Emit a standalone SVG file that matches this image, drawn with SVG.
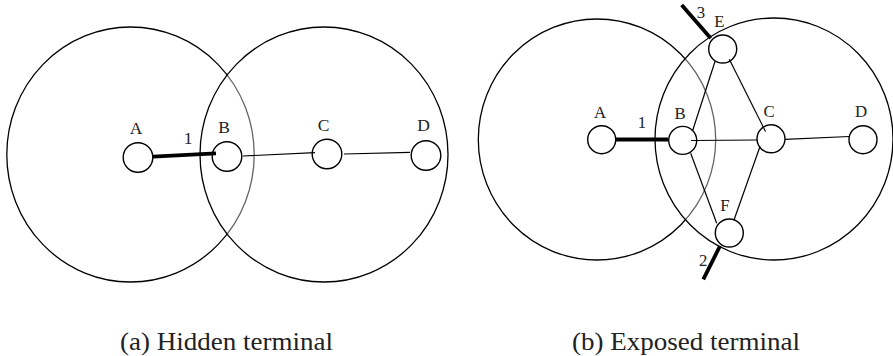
<svg xmlns="http://www.w3.org/2000/svg" width="893" height="356" viewBox="0 0 893 356">
<style>
.range{fill:none;stroke:#000;stroke-width:1.3}
.cover{fill:#fff;fill-opacity:0.4;stroke:#000;stroke-width:1.3}
.node{fill:none;stroke:#000;stroke-width:1.4}
.link{stroke:#000;stroke-width:1.2;fill:none}
.tx{stroke:#000;stroke-width:3.8;fill:none}
.lbl{font-family:"Liberation Serif","Times New Roman",serif;fill:#222;text-anchor:middle}
.l1{font-size:17.5px}
.l2{font-size:16.8px}
.cap{font-family:"Liberation Serif","Times New Roman",serif;font-size:26px;fill:#222;text-anchor:middle}
</style>
<rect width="893" height="356" fill="#fff"/>
<g id="panel-a">
  <g id="range-a-A"><ellipse class="range" cx="130.5" cy="154.5" rx="123.7" ry="127.5"/></g>
  <g id="range-a-B"><ellipse class="cover" cx="324" cy="154.5" rx="124" ry="127.5"/></g>
  <g id="connectors-a">
    <line class="tx" x1="153" y1="156.7" x2="216" y2="153.3"/>
    <line class="link" x1="243" y1="156" x2="315" y2="152.7"/>
    <line class="link" x1="344" y1="154" x2="410" y2="152.3"/>
  </g>
  <g id="a-A"><circle class="node" cx="138" cy="157.5" r="14.8"/><text class="lbl l1" x="136" y="133.5">A</text></g>
  <g id="a-B"><circle class="node" cx="227" cy="156.5" r="14.8"/><text class="lbl l1" x="224" y="132.5">B</text></g>
  <g id="a-C"><circle class="node" cx="327" cy="154" r="14.8"/><text class="lbl l1" x="323.5" y="130.5">C</text></g>
  <g id="a-D"><circle class="node" cx="426" cy="155.5" r="14.8"/><text class="lbl l1" x="423.5" y="131">D</text></g>
  <text class="lbl l1" x="188" y="144">1</text>
  <text class="cap" x="226.5" y="350" textLength="213" lengthAdjust="spacingAndGlyphs">(a) Hidden terminal</text>
</g>
<g id="panel-b">
  <g id="range-b-A"><ellipse class="range" cx="597" cy="139.5" rx="118.7" ry="120.5"/></g>
  <g id="range-b-B"><ellipse class="cover" cx="774" cy="139" rx="119" ry="121"/></g>
  <g id="connectors-b">
    <line class="tx" x1="615.5" y1="139.5" x2="668.3" y2="139.5"/>
    <line class="tx" x1="681.7" y1="5" x2="710.7" y2="38.3"/>
    <line class="tx" x1="720" y1="246" x2="703.3" y2="279.3"/>
    <line class="link" x1="691" y1="140.5" x2="757.3" y2="140"/>
    <line class="link" x1="785" y1="139.3" x2="849.3" y2="136.5"/>
    <line class="link" x1="692.5" y1="131" x2="715" y2="61.5"/>
    <line class="link" x1="729.3" y1="59.3" x2="765.5" y2="131.5"/>
    <line class="link" x1="690.7" y1="153.3" x2="716.7" y2="223.3"/>
    <line class="link" x1="734" y1="220" x2="760" y2="146.5"/>
  </g>
  <g id="b-A"><circle class="node" cx="601.7" cy="139.7" r="14"/><text class="lbl l2" x="600" y="117.5">A</text></g>
  <g id="b-B"><circle class="node" cx="682.7" cy="140.4" r="14"/><text class="lbl l2" x="680" y="118.5">B</text></g>
  <g id="b-C"><circle class="node" cx="771" cy="138.8" r="14"/><text class="lbl l2" x="769" y="116.5">C</text></g>
  <g id="b-D"><circle class="node" cx="863" cy="139.7" r="14"/><text class="lbl l2" x="861" y="117">D</text></g>
  <g id="b-E"><circle class="node" cx="722.7" cy="49" r="14"/><text class="lbl l2" x="719.5" y="26.5">E</text></g>
  <g id="b-F"><circle class="node" cx="729.3" cy="233" r="14"/><text class="lbl l2" x="725" y="211">F</text></g>
  <text class="lbl l2" x="642" y="128">1</text>
  <text class="lbl l2" x="701" y="18">3</text>
  <text class="lbl l2" x="703.3" y="266">2</text>
  <text class="cap" x="686" y="350" textLength="228" lengthAdjust="spacingAndGlyphs">(b) Exposed terminal</text>
</g>
</svg>
